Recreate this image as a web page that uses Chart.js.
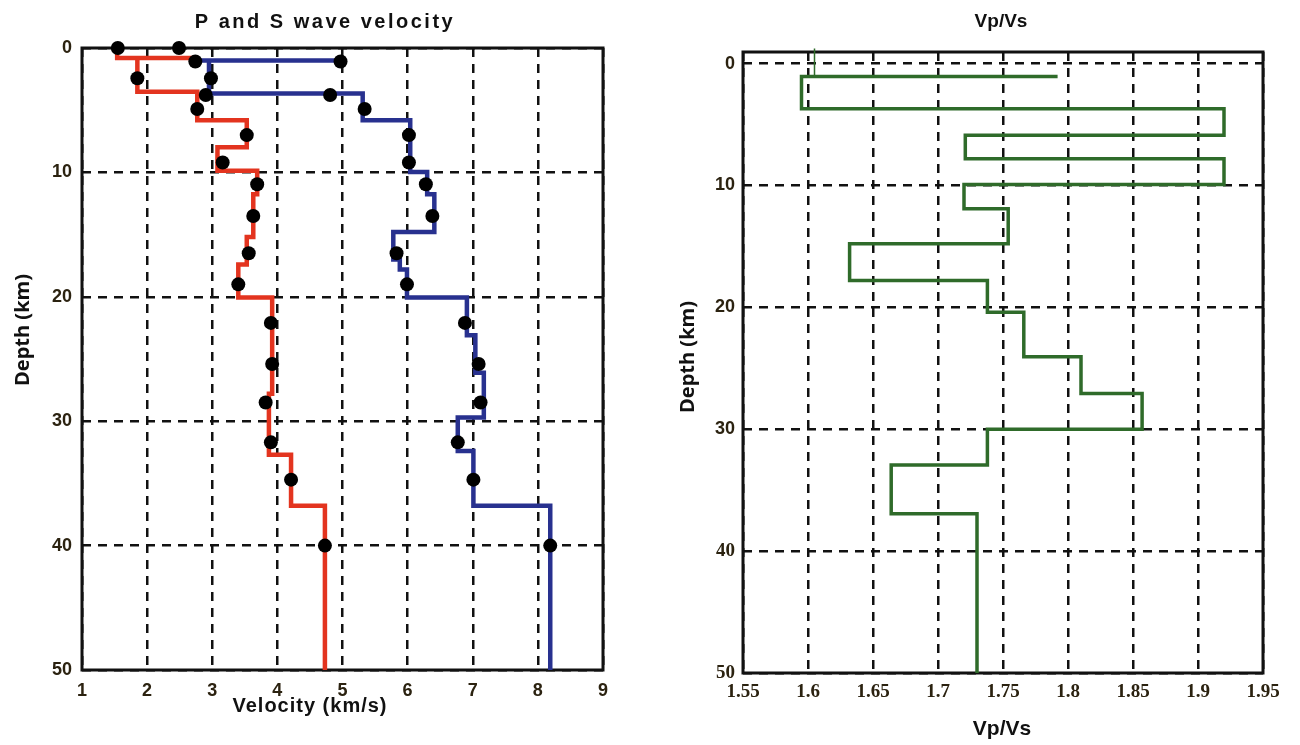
<!DOCTYPE html>
<html>
<head>
<meta charset="utf-8">
<script src="https://cdn.jsdelivr.net/npm/chart.js@4.4.1/dist/chart.umd.min.js"></script>
<style>
  html, body { margin: 0; padding: 0; background: #fff; }
  body { width: 1300px; height: 745px; position: relative; overflow: hidden; }
  canvas { position: absolute; top: 0; }
  #velocity { left: 0; }
  #ratio { left: 640px; }
</style>
</head>
<body>
<canvas id="velocity" width="640" height="745"></canvas>
<canvas id="ratio" width="660" height="745"></canvas>
<script>
// tick labels
const velTicks = [1, 2, 3, 4, 5, 6, 7, 8, 9];
const depthTicks = [0, 10, 20, 30, 40, 50];
const ratioTicks = [1.55, 1.6, 1.65, 1.7, 1.75, 1.8, 1.85, 1.9, 1.95];

// observed points (black dots), km and km/s
const obsDepth = [0, 1.08, 2.43, 3.78, 4.9, 7.0, 9.2, 10.95, 13.5, 16.5, 19.0, 22.1, 25.4, 28.5, 31.7, 34.7, 40.0];
const obsVs = [1.55, 2.74, 1.85, 2.90, 2.77, 3.53, 3.16, 3.69, 3.63, 3.56, 3.40, 3.90, 3.92, 3.82, 3.90, 4.21, 4.73];
const obsVp = [2.49, 4.97, 2.98, 4.81, 5.34, 6.02, 6.02, 6.28, 6.38, 5.83, 5.99, 6.88, 7.09, 7.12, 6.77, 7.01, 8.19];

// S wave model (red step line)
const vsVel = [1.54, 1.54, 2.72, 1.85, 1.85, 2.77, 2.77, 3.53, 3.53, 3.08, 3.08, 3.69, 3.69, 3.63, 3.63, 3.53, 3.53, 3.40, 3.40, 3.92, 3.92, 3.87, 3.87, 4.21, 4.21, 4.73, 4.73];
const vsDepth = [0, 0.81, 0.81, 0.81, 3.51, 3.51, 5.81, 5.81, 7.97, 7.97, 9.86, 9.86, 11.76, 11.76, 15.2, 15.2, 17.4, 17.4, 20.05, 20.05, 27.8, 27.8, 32.7, 32.7, 36.8, 36.8, 50];

// P wave model (blue step line)
const vpVel = [4.97, 2.74, 2.95, 2.95, 5.31, 5.31, 6.04, 6.04, 6.30, 6.30, 6.41, 6.41, 5.78, 5.78, 5.88, 5.88, 5.99, 5.99, 6.91, 6.91, 7.04, 7.04, 7.17, 7.17, 6.77, 6.77, 7.01, 7.01, 8.19, 8.19];
const vpDepth = [1.0, 1.0, 1.0, 3.65, 3.65, 5.81, 5.81, 9.97, 9.97, 11.76, 11.76, 14.8, 14.8, 17.0, 17.0, 17.8, 17.8, 20.05, 20.05, 23.1, 23.1, 26.1, 26.1, 29.7, 29.7, 32.4, 32.4, 36.8, 36.8, 50];

// Vp/Vs model (green step line)
const ratioVal = [1.605, 1.605, 1.792, 1.595, 1.595, 1.92, 1.92, 1.721, 1.721, 1.92, 1.92, 1.72, 1.72, 1.754, 1.754, 1.632, 1.632, 1.738, 1.738, 1.766, 1.766, 1.81, 1.81, 1.857, 1.857, 1.738, 1.738, 1.664, 1.664, 1.730, 1.730];
const ratioDepth = [-1.23, 1.05, 1.05, 1.05, 3.70, 3.70, 5.89, 5.89, 7.81, 7.81, 9.92, 9.92, 11.92, 11.92, 14.79, 14.79, 17.8, 17.8, 20.4, 20.4, 24.05, 24.05, 27.07, 27.07, 30.0, 30.0, 32.93, 32.93, 36.93, 36.93, 50];

const pts = (xs, ys) => xs.map((x, i) => ({x: x, y: ys[i]}));

const tickColor = '#2b2210';
const sans = 'Liberation Sans';
const serif = 'Liberation Serif';

// solid frame round the plot area, then the free text
const frameAndText = {
    id: 'frameAndText',
    beforeDatasetsDraw(chart) {
        const {ctx, chartArea: a} = chart;
        ctx.save();
        ctx.strokeStyle = '#111';
        ctx.lineWidth = 3;
        ctx.strokeRect(a.left, a.top, a.right - a.left, a.bottom - a.top);
        ctx.restore();
    },
    afterDraw(chart, args, opts) {
        const ctx = chart.ctx;
        ctx.save();
        ctx.fillStyle = '#111';
        ctx.textAlign = 'center';
        ctx.textBaseline = 'middle';
        for (const t of opts.texts) {
            ctx.save();
            ctx.font = t.font;
            ctx.letterSpacing = t.spacing || '0px';
            ctx.translate(t.x, t.y);
            if (t.rotate) ctx.rotate(t.rotate);
            ctx.fillText(t.text, 0, 0);
            ctx.restore();
        }
        ctx.restore();
    }
};

function axis(min, max, ticks, extra) {
    return Object.assign({
        type: 'linear',
        min: min,
        max: max,
        afterBuildTicks: s => { s.ticks = ticks.map(v => ({value: v})); },
        ticks: {color: tickColor, callback: v => String(v)},
        grid: {color: '#111', lineWidth: 2.5, drawTicks: false},
        border: {display: false, dash: [9, 7]}
    }, extra);
}

function dots(xs) {
    return {
        data: pts(xs, obsDepth),
        showLine: false,
        pointRadius: 7,
        pointBackgroundColor: '#000',
        pointBorderWidth: 0,
        clip: false
    };
}

function stepLine(xs, ys, color, width) {
    return {
        data: pts(xs, ys),
        showLine: true,
        borderColor: color,
        borderWidth: width,
        borderJoinStyle: 'miter',
        pointRadius: 0,
        clip: false
    };
}

const common = {
    responsive: false,
    animation: false,
    events: []
};

new Chart(document.getElementById('velocity'), {
    type: 'scatter',
    data: {
        datasets: [
            dots(obsVs),
            dots(obsVp),
            stepLine(vsVel, vsDepth, '#e3341f', 4.5),
            stepLine(vpVel, vpDepth, '#28318f', 4.5)
        ]
    },
    options: Object.assign({}, common, {
        layout: {padding: {top: 48, right: 37, left: 0, bottom: 0}},
        plugins: {
            legend: {display: false},
            tooltip: {enabled: false},
            frameAndText: {
                texts: [
                    {text: 'P and S wave velocity', x: 325, y: 22, font: 'bold 20px ' + sans, spacing: '2.5px'},
                    {text: 'Velocity (km/s)', x: 310, y: 706, font: 'bold 20px ' + sans, spacing: '1px'},
                    {text: 'Depth (km)', x: 23, y: 330, font: 'bold 20px "Open Sans"', rotate: -Math.PI / 2}
                ]
            }
        },
        scales: {
            x: axis(1, 9, velTicks, {
                afterFit: s => { s.height = 75; }
            }),
            y: axis(0, 50, depthTicks, {
                reverse: true,
                afterFit: s => { s.width = 82; }
            })
        }
    }),
    plugins: [frameAndText]
});

const velChart = Chart.getChart('velocity');
velChart.options.scales.x.ticks.padding = 10;
velChart.options.scales.x.ticks.font = {family: sans, size: 18, weight: 'bold'};
velChart.options.scales.y.ticks.padding = 10;
velChart.options.scales.y.ticks.font = {family: sans, size: 18, weight: 'bold'};
velChart.update();

const ratioChart = new Chart(document.getElementById('ratio'), {
    type: 'scatter',
    data: {
        datasets: [
            Object.assign(stepLine(ratioVal, ratioDepth, '#2f6b2a', 3.5), {
                segment: {borderWidth: c => c.p0DataIndex === 0 ? 1.5 : 3.5}
            })
        ]
    },
    options: Object.assign({}, common, {
        layout: {padding: {top: 52, right: 37, left: 0, bottom: 0}},
        plugins: {
            legend: {display: false},
            tooltip: {enabled: false},
            frameAndText: {
                texts: [
                    {text: 'Vp/Vs', x: 361, y: 22, font: 'bold 19px ' + sans},
                    {text: 'Vp/Vs', x: 362, y: 729, font: 'bold 21px ' + sans},
                    {text: 'Depth (km)', x: 48, y: 357, font: 'bold 20px "Open Sans"', rotate: -Math.PI / 2}
                ]
            }
        },
        scales: {
            x: axis(1.55, 1.95, ratioTicks, {
                afterFit: s => { s.height = 72; }
            }),
            y: axis(-0.95, 50, depthTicks, {
                reverse: true,
                afterFit: s => { s.width = 103; }
            })
        }
    }),
    plugins: [frameAndText]
});

ratioChart.options.scales.x.ticks.padding = 8;
ratioChart.options.scales.x.ticks.font = {family: serif, size: 19, weight: 'bold'};
ratioChart.options.scales.y.ticks.padding = 8;
ratioChart.options.scales.y.ticks.font = c => c.tick && c.tick.value >= 40 ?
    {family: serif, size: 19, weight: 'bold'} :
    {family: sans, size: 18, weight: 'bold'};
ratioChart.update();
</script>
</body>
</html>
